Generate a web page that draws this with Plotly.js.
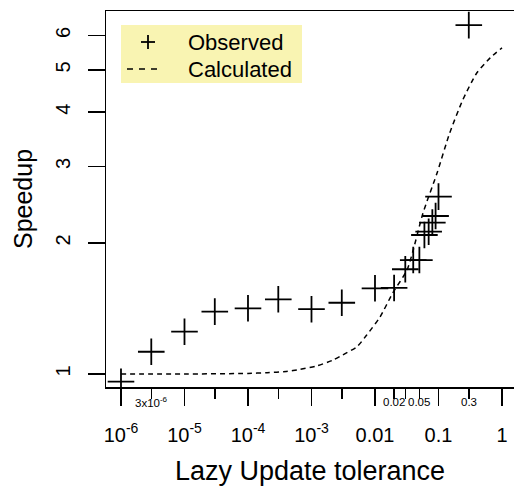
<!DOCTYPE html>
<html>
<head>
<meta charset="utf-8">
<script src="https://cdn.plot.ly/plotly-3.0.1.min.js"></script>
<style>html,body{margin:0;padding:0;overflow:hidden;background:#fff}</style>
</head>
<body>
<div id="chart" style="width:514px;height:487px"></div>
<script>
// Observed speedups
var obsTolerance = [1e-6, 3e-6, 1e-5, 3e-5, 1e-4, 3e-4, 1e-3, 3e-3, 0.01, 0.02, 0.03, 0.04, 0.05, 0.06, 0.07, 0.08, 0.09, 0.1, 0.3];
var obsSpeedup   = [0.960, 1.125, 1.251, 1.391, 1.416, 1.485, 1.409, 1.458, 1.574, 1.577, 1.741, 1.828, 1.828, 2.087, 2.124, 2.228, 2.308, 2.557, 6.34];

// Calculated curve
var calcTolerance = [1e-6, 1e-5, 1e-4, 2e-4, 4e-4, 6.6e-4, 1.2e-3, 2.2e-3, 3.1e-3, 5.2e-3, 7.4e-3, 0.012, 0.019, 0.032, 0.04, 0.057, 0.095, 0.15, 0.24, 0.4, 0.65, 1.0];
var calcSpeedup   = [1.0, 1.0, 1.003, 1.007, 1.013, 1.025, 1.043, 1.077, 1.106, 1.155, 1.229, 1.352, 1.535, 1.734, 1.928, 2.344, 2.898, 3.58, 4.26, 4.92, 5.33, 5.62];

// Axis ticks
var xMajorVals = [1e-6, 1e-5, 1e-4, 1e-3, 0.01, 0.1, 1];
var xMajorText = ['10<sup>-6</sup>', '10<sup>-5</sup>', '10<sup>-4</sup>', '10<sup>-3</sup>', '0.01', '0.1', '1'];
var xMinorVals = [3e-6, 3e-5, 3e-4, 3e-3, 0.02, 0.03, 0.05, 0.3];
var xMinorLabelVals = [3e-6, 0.02, 0.05, 0.3];
var xMinorLabelText = ['3x10<sup>-6</sup>', '0.02', '0.05', '0.3'];
var yTickVals = [1, 2, 3, 4, 5, 6];

// Legend labels
var legendLabels = ['Observed', 'Calculated'];

var FONT = 'Liberation Sans, Arial, Helvetica, sans-serif';

// plot area geometry in pixels (for the hand-drawn legend)
var PL = 106, PW = 408, PT = 11, PH = 376;
function px(x) { return (x - PL) / PW; }
function py(y) { return (PT + PH - y) / PH; }

var traces = [
  {
    x: obsTolerance, y: obsSpeedup, name: legendLabels[0], type: 'scatter', mode: 'markers',
    marker: {symbol: 'cross-thin', size: 19, color: 'black', line: {color: 'black', width: 1.8}},
    hoverinfo: 'skip'
  },
  {
    x: calcTolerance, y: calcSpeedup, name: legendLabels[1], type: 'scatter', mode: 'lines',
    line: {color: 'black', width: 1.5, dash: '5px,4px', shape: 'spline', smoothing: 0.6},
    hoverinfo: 'skip'
  }
];

var annotations = xMinorLabelVals.map(function (v, i) {
  return {
    x: Math.log10(v), xref: 'x', y: 0, yref: 'paper', yshift: -15,
    text: xMinorLabelText[i], showarrow: false, xanchor: 'center', yanchor: 'middle',
    font: {family: FONT, size: 11.5, color: 'black'}
  };
});
// legend texts
annotations.push({x: px(186), y: py(42), xref: 'paper', yref: 'paper', xanchor: 'left', yanchor: 'middle',
  text: legendLabels[0], showarrow: false, font: {family: FONT, size: 22, color: 'black'}});
annotations.push({x: px(186), y: py(69), xref: 'paper', yref: 'paper', xanchor: 'left', yanchor: 'middle',
  text: legendLabels[1], showarrow: false, font: {family: FONT, size: 22, color: 'black'}});

var shapes = [
  // legend box
  {type: 'rect', xref: 'paper', yref: 'paper', x0: px(121), x1: px(302), y0: py(83), y1: py(25),
   fillcolor: '#f9f4b2', line: {width: 0}, layer: 'below'},
  // legend "+" symbol
  {type: 'line', xref: 'paper', yref: 'paper', x0: px(141), x1: px(155), y0: py(42), y1: py(42), line: {color: 'black', width: 1.8}},
  {type: 'line', xref: 'paper', yref: 'paper', x0: px(148), x1: px(148), y0: py(35), y1: py(49), line: {color: 'black', width: 1.8}},
  // legend dashed line
  {type: 'line', xref: 'paper', yref: 'paper', x0: px(127), x1: px(163), y0: py(69), y1: py(69), line: {color: 'black', width: 1.5, dash: '6px,6px'}}
];

var layout = {
  width: 514, height: 487,
  margin: {l: 106, r: 0, t: 11, b: 100},
  paper_bgcolor: 'white', plot_bgcolor: 'white',
  font: {family: FONT, color: 'black'},
  showlegend: false,
  xaxis: {
    type: 'log', range: [-6.236, 0.189], autorange: false,
    tickmode: 'array', tickvals: xMajorVals, ticktext: xMajorText,
    ticks: 'outside', ticklen: 17, tickwidth: 1.5, tickcolor: 'black',
    showline: true, linewidth: 1.5, linecolor: 'black', mirror: true,
    showgrid: false, zeroline: false,
    tickfont: {family: FONT, size: 20, color: 'black'},
    ticklabelstandoff: 12,
    minor: {tickmode: 'array', tickvals: xMinorVals, ticks: 'outside', ticklen: 10, tickwidth: 1.5, tickcolor: 'black', showgrid: false},
    title: {text: 'Lazy Update tolerance', font: {family: FONT, size: 27, color: 'black'}, standoff: 16}
  },
  yaxis: {
    type: 'log', range: [-0.0299, 0.8345], autorange: false,
    tickmode: 'array', tickvals: yTickVals, ticktext: yTickVals.map(String),
    ticks: 'outside', ticklen: 17, tickwidth: 1.5, tickcolor: 'black',
    showline: true, linewidth: 1.5, linecolor: 'black',
    showgrid: false, zeroline: false,
    tickangle: -90,
    tickfont: {family: FONT, size: 20, color: 'black'},
    ticklabelstandoff: 10,
    title: {text: 'Speedup', font: {family: FONT, size: 25, color: 'black'}, standoff: 12}
  },
  shapes: shapes,
  annotations: annotations
};

Plotly.newPlot('chart', traces, layout, {displayModeBar: false, staticPlot: true});
</script>
</body>
</html>
